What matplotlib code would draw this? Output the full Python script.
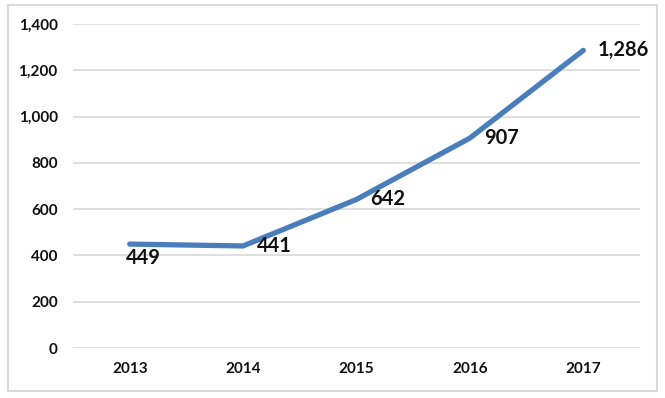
import matplotlib
matplotlib.use("Agg")
import matplotlib.pyplot as plt
import matplotlib.patches as patches
from matplotlib.ticker import FuncFormatter

years = ["2013", "2014", "2015", "2016", "2017"]
values = [449, 441, 642, 907, 1286]
y_ticks = [0, 200, 400, 600, 800, 1000, 1200, 1400]

LINE_COLOR = "#4a7ebb"
GRID_COLOR = "#d9d9d9"

plt.rcParams["font.family"] = ["Lato", "DejaVu Sans"]

fig = plt.figure(figsize=(6.65, 3.98), dpi=100)
ax = fig.add_axes([0.1098, 0.1256, 0.8526, 0.8141])

# chart border
fig.patches.append(
    patches.Rectangle((0.012, 0.0176), 0.976, 0.97, transform=fig.transFigure,
                      fill=False, edgecolor=GRID_COLOR, linewidth=1.5)
)

x = list(range(len(years)))
ax.plot(x, values, color=LINE_COLOR, linewidth=3.8, solid_capstyle="round",
        solid_joinstyle="round", zorder=3)

ax.set_xlim(-0.5, len(years) - 0.5)
ax.set_ylim(0, 1400)
ax.set_yticks(y_ticks)
ax.yaxis.set_major_formatter(FuncFormatter(lambda v, p: f"{int(v):,}"))
ax.set_xticks(x)
ax.set_xticklabels(years)
ax.tick_params(axis="both", length=0, labelsize=11, colors="#111111")
ax.tick_params(axis="y", pad=11)
ax.tick_params(axis="x", pad=10)
for lab in ax.get_xticklabels() + ax.get_yticklabels():
    lab.set_fontweight("bold")

ax.grid(axis="y", color=GRID_COLOR, linewidth=1.2)
ax.set_axisbelow(True)
for s in ax.spines.values():
    s.set_visible(False)

# data labels
for i, v in enumerate(values):
    if i == 0:
        offset = (-3, -10)
    else:
        offset = (10, 0)
    ax.annotate(f"{v:,}", (i, v), xytext=offset, textcoords="offset points",
                ha="left", va="center", fontsize=14.5, fontweight="bold", color="#111111")

fig.savefig("out.png", dpi=100)
